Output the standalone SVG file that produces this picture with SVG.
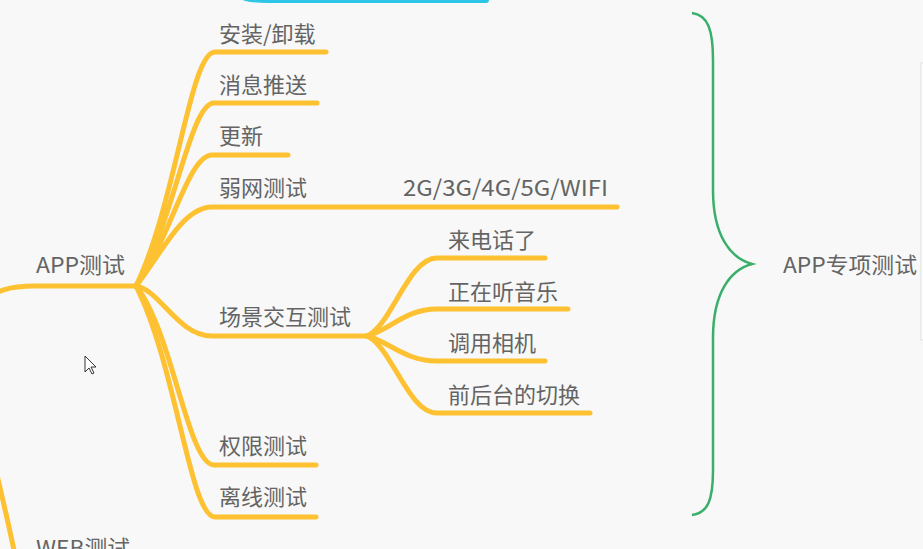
<svg xmlns="http://www.w3.org/2000/svg" width="923" height="549" viewBox="0 0 923 549">
<style>
.t{font-family:"Noto Sans CJK SC","Noto Sans",sans-serif;font-size:22px;fill:#646464}
.y{fill:none;stroke:#FDC132;stroke-width:5;stroke-linecap:round;stroke-linejoin:round}
</style>
<rect width="923" height="549" fill="#F7F8F7"/>
<rect x="921" y="63" width="6" height="277" fill="#ffffff" stroke="#e0e0e0" stroke-width="1"/>
<g id="connectors">
  <path d="M232,-10 C240,-2 250,0 268,0 L486,0" fill="none" stroke="#2EC6E6" stroke-width="6" stroke-linecap="round"/>
  <path class="y" d="M-20,305 C-5,290 10,286 35,286 L136,286"/>
  <path class="y" d="M-10,445 C-2,480 8,520 16,560"/>
  <path class="y" d="M136,286 C176,204 190,52 215,52 L326,52"/>
  <path class="y" d="M136,286 C174,222 190,103 214,103 L317,103"/>
  <path class="y" d="M136,286 C170,240 188,155 212,155 L288,155"/>
  <path class="y" d="M136,286 C160,256 182,207 212,207 L617,207"/>
  <path class="y" d="M136,286 C160,290 178,336 212,336 L367,336"/>
  <path class="y" d="M136,286 C172,330 188,465 214,465 L316,465"/>
  <path class="y" d="M136,286 C176,364 190,517 215,517 L316,517"/>
  <path class="y" d="M367,336 C392,325 408,258 437,258 L545,258"/>
  <path class="y" d="M367,336 C390,330 405,309 437,309 L568,309"/>
  <path class="y" d="M367,336 C390,342 405,361 437,361 L545,361"/>
  <path class="y" d="M367,336 C392,347 408,413 437,413 L590,413"/>
  <path d="M692,13 C708,15 713,30 713,60 L713,190 C713,235 730,258 752,264 C730,270 713,293 713,338 L713,470 C713,500 708,513 692,515" fill="none" stroke="#3AAF6B" stroke-width="2.5"/>
</g>
<g id="app"><text class="t" x="36" y="273" textLength="89" lengthAdjust="spacingAndGlyphs">APP测试</text></g>
<g id="web"><text class="t" x="36" y="556" textLength="94" lengthAdjust="spacingAndGlyphs">WEB测试</text></g>
<g id="install"><text class="t" x="219" y="42">安装/卸载</text></g>
<g id="push"><text class="t" x="219" y="93">消息推送</text></g>
<g id="update"><text class="t" x="219" y="144">更新</text></g>
<g id="weaknet"><text class="t" x="219" y="196">弱网测试</text></g>
<g id="nettypes"><text class="t" x="403" y="196" textLength="205" lengthAdjust="spacingAndGlyphs">2G/3G/4G/5G/WIFI</text></g>
<g id="scene"><text class="t" x="219" y="325">场景交互测试</text></g>
<g id="call"><text class="t" x="448" y="248">来电话了</text></g>
<g id="music"><text class="t" x="448" y="300">正在听音乐</text></g>
<g id="camera"><text class="t" x="448" y="351">调用相机</text></g>
<g id="switch"><text class="t" x="448" y="403">前后台的切换</text></g>
<g id="perm"><text class="t" x="219" y="454">权限测试</text></g>
<g id="offline"><text class="t" x="219" y="505">离线测试</text></g>
<g id="special"><text class="t" x="783" y="273" textLength="134" lengthAdjust="spacingAndGlyphs">APP专项测试</text></g>
<g id="cursor"><path d="M85,356 L85,372 L89,368 L92,374 L94,373 L91,367 L96,367 Z" fill="#ffffff" stroke="#333333" stroke-width="1" stroke-linejoin="round"/></g>
</svg>
